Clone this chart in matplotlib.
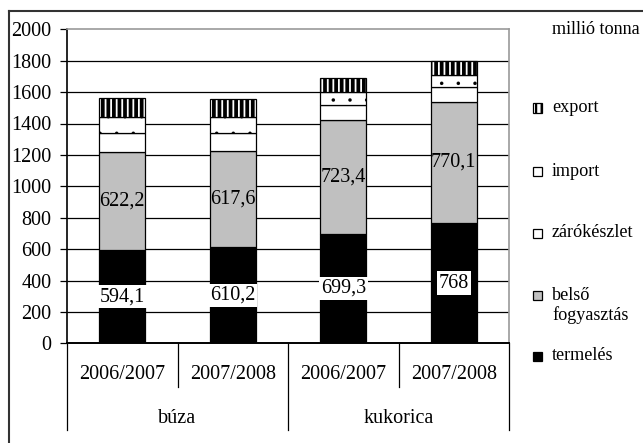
import numpy as np
import matplotlib
matplotlib.use("Agg")
import matplotlib.pyplot as plt
from matplotlib.patches import Rectangle
from matplotlib.lines import Line2D

# adatok (millió tonna)
evek = ['2006/2007', '2007/2008', '2006/2007', '2007/2008']
csoportok = ['búza', 'kukorica']
termeles = [594.1, 610.2, 699.3, 768]
belso = [622.2, 617.6, 723.4, 770.1]
zarokeszlet = [125, 112, 95, 95]
import_ = [102, 102, 80, 77]
export = [117, 113, 90, 89]
yticks = list(range(0, 2001, 200))

plt.rcParams['font.family'] = ['Liberation Serif', 'DejaVu Serif']
FS = 14.5
FS_LEG = 13.1

W, H = 643, 443
fig = plt.figure(figsize=(W / 100, H / 100), dpi=100)
# plot terulet pixelben: bal 67, jobb 509, felso 29, also 343
ax = fig.add_axes([67 / W, 1 - 343.3 / H, 442 / W, 314 / H])

x = np.arange(len(evek))
bw = 0.415
ax.hlines(yticks[1:-1], -0.5, 3.5, color='black', lw=0.9, zorder=1)

# (ertekek, szin, minta, minta vastagsag)
retegek = [
    (termeles, 'black', None, 1.0),
    (belso, '#c0c0c0', None, 1.0),
    (zarokeszlet, 'white', None, 1.0),
    (import_, 'white', '.', 0.1),
    (export, 'white', '|||', 2.7),
]
alap = np.zeros(len(evek))
for ertekek, szin, hatch, hlw in retegek:
    plt.rcParams['hatch.linewidth'] = hlw
    ax.bar(x, ertekek, bw, bottom=alap, facecolor=szin, edgecolor='black',
           lw=0.9, hatch=hatch, zorder=2)
    alap = alap + np.array(ertekek)

def fmt(v):
    return ('%g' % v).replace('.', ',')

for i in range(len(evek)):
    ax.text(x[i], termeles[i] / 2, fmt(termeles[i]), ha='center', va='center', fontsize=FS,
            zorder=3, bbox=dict(facecolor='white', edgecolor='none', pad=1.5))
    ax.text(x[i], termeles[i] + belso[i] / 2, fmt(belso[i]), ha='center', va='center',
            fontsize=FS, zorder=3)

ax.set_xlim(-0.5, 3.5)
ax.set_ylim(0, 2000)
ax.set_yticks(yticks)
ax.tick_params(axis='y', labelsize=FS, length=5, width=0.9, pad=6, direction='out')
ax.set_xticks([])
for s in ['top', 'right']:
    ax.spines[s].set_color('#999999')
    ax.spines[s].set_linewidth(1.2)
ax.spines['left'].set_linewidth(1.2)
ax.spines['bottom'].set_linewidth(1.4)

# tobbszintu kategoria tengely
tr = ax.get_xaxis_transform()
for xs in [0.5, 2.5]:
    ax.plot([xs, xs], [0, -0.139], color='black', lw=0.9, transform=tr, clip_on=False)
for xs in [-0.5, 1.5, 3.5]:
    ax.plot([xs, xs], [0, -0.276], color='black', lw=0.9, transform=tr, clip_on=False)
for i, ev in enumerate(evek):
    ax.text(x[i], -0.10, ev, ha='center', va='center', fontsize=FS, transform=tr)
for j, cs in enumerate(csoportok):
    ax.text(2 * j + 0.5, -0.238, cs, ha='center', va='center', fontsize=FS, transform=tr)

# kulso keret
fig.add_artist(Line2D([9 / W, 9 / W], [0, 1 - 11 / H], color='#333333', lw=1.5))
fig.add_artist(Line2D([9 / W, 1], [1 - 11 / H, 1 - 11 / H], color='#333333', lw=1.5))

fig.text(552 / W, 1 - 30 / H, 'millió tonna', fontsize=FS_LEG, va='center', ha='left')

# jelmagyarazat
jelek = [
    ('export', 'white', '|||', 1.6, 108),
    ('import', 'white', None, 1.0, 171),
    ('zárókészlet', 'white', None, 1.0, 233),
    ('belső\nfogyasztás', '#c0c0c0', None, 1.0, 295),
    ('termelés', 'black', None, 1.0, 356),
]
for nev, szin, hatch, hlw, yp in jelek:
    plt.rcParams['hatch.linewidth'] = hlw
    fig.add_artist(Rectangle((533 / W, 1 - (yp + 4.5) / H), 9 / W, 9 / H,
                             facecolor=szin, edgecolor='black', lw=0.9, hatch=hatch))
    if '\n' in nev:
        fig.text(552 / W, 1 - (yp + 10.5) / H, nev, fontsize=FS_LEG, va='center',
                 ha='left', linespacing=1.17)
    else:
        fig.text(552 / W, 1 - yp / H, nev, fontsize=FS_LEG, va='center', ha='left')

fig.savefig('out.png', dpi=100)
